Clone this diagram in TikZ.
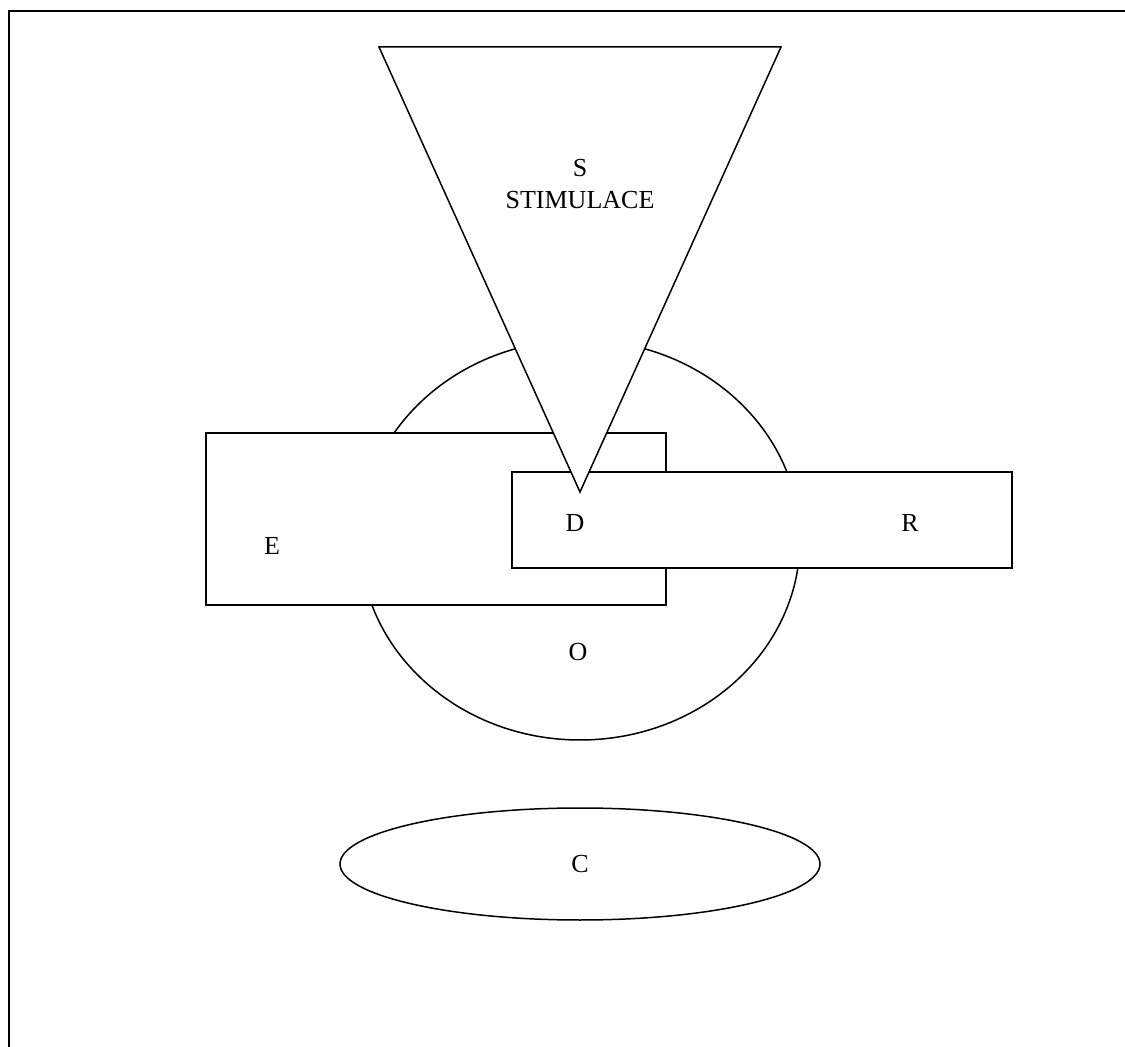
\documentclass[tikz,border=0pt]{standalone}
\usepackage{fontspec}
\setmainfont{Liberation Serif}
\usepackage{tikz}
\usetikzlibrary{calc,positioning}
\begin{document}
\begin{tikzpicture}[x=0.5pt,y=-0.5pt,
  part/.style={draw=black,fill=white,line width=0.75pt},
  lbl/.style={font=\fontsize{13}{16}\selectfont,inner sep=0pt,align=center}]
  \useasboundingbox (0,0) rectangle (1125,1047);
  \draw[line width=1.25pt] (9,1047) -- (9,11) -- (1125,11);
  % organism, environment, response, stimulus
  \draw[part] (580,540) ellipse [x radius=220, y radius=200];
  \draw[part] (206,433) rectangle (666,605);
  \draw[part] (512,472) rectangle (1012,568);
  \coordinate (tl) at (379,47);
  \coordinate (tr) at (781,47);
  \coordinate (tip) at (580,492);
  \draw[part,line join=miter] (tl) -- (tr) -- (tip) -- cycle;
  \draw[part] (580,864) ellipse [x radius=240, y radius=56];
  % labels
  \node[lbl] (stim) at (580,184) {S\\STIMULACE};
  \node[lbl] (dd) at (575,523) {D};
  \node[lbl] (rr) at (910,523) {R};
  \node[lbl] (ee) at (272,546) {E};
  \node[lbl] (oo) at (578,652) {O};
  \node[lbl] (cc) at (580,864) {C};
\end{tikzpicture}
\end{document}
